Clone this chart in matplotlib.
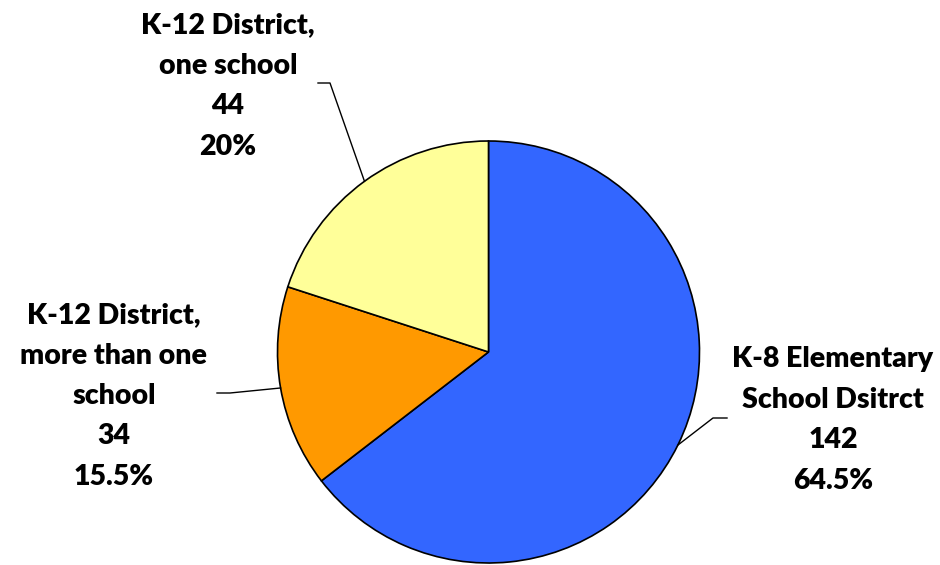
import numpy as np
import matplotlib.pyplot as plt

plt.rcParams["font.family"] = ["Lato", "DejaVu Sans"]
plt.rcParams["font.weight"] = "bold"

# School district counts
categories = ["K-8 Elementary\nSchool Dsitrct", "K-12 District,\nmore than one\nschool", "K-12 District,\none school"]
counts = [142, 34, 44]
colors = ["#3366FF", "#FF9900", "#FFFF99"]

# label centres and leader-line elbows (pixel coords, y measured from bottom)
label_pos = [(833, 565 - 420), (114, 565 - 396), (228, 565 - 86)]
elbows = [[(713, 565 - 418), (727, 565 - 418)],
          [(230, 565 - 393), (217, 565 - 393)],
          [(330, 565 - 83), (318, 565 - 83)]]

W, H = 940, 565
fig = plt.figure(figsize=(W / 100, H / 100), dpi=100)
ax = fig.add_axes([0, 0, 1, 1])
ax.set_aspect("equal")

cx, cy, r = 488.5, 565 - 352, 211
wedges, _ = ax.pie(counts, colors=colors, startangle=90, counterclock=False,
                   center=(cx, cy), radius=r, frame=True,
                   wedgeprops=dict(edgecolor="black", linewidth=1.2))
ax.set_xlim(0, W)
ax.set_ylim(0, H)
ax.axis("off")

total = sum(counts)
for w, name, n, (lx, ly), elb in zip(wedges, categories, counts, label_pos, elbows):
    ang = np.deg2rad((w.theta1 + w.theta2) / 2)
    x0, y0 = cx + r * np.cos(ang), cy + r * np.sin(ang)
    xs = [x0] + [p[0] for p in elb]
    ys = [y0] + [p[1] for p in elb]
    ax.plot(xs, ys, color="black", linewidth=1.0)
    pct = f"{100 * n / total:.1f}".rstrip("0").rstrip(".")
    ax.text(lx, ly, f"{name}\n{n}\n{pct}%", ha="center", va="center",
            fontsize=20.5, fontweight="heavy", linespacing=1.69)

fig.savefig("out.png", dpi=100)
